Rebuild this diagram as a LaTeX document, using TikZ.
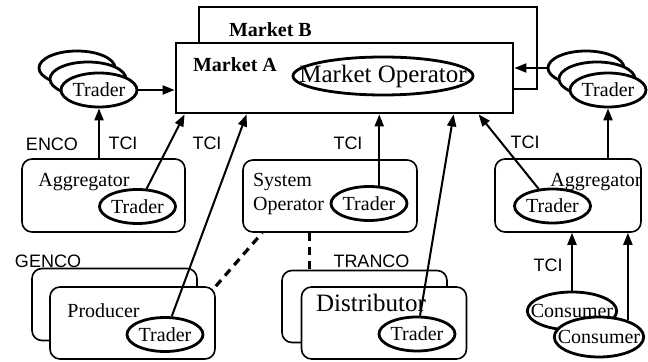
\documentclass[tikz,border=0pt]{standalone}
\usepackage{fontspec}
\setmainfont{Liberation Serif}
\setsansfont{Liberation Sans}
\usetikzlibrary{arrows.meta,shapes.geometric}

\begin{document}
\begin{tikzpicture}[x=0.5pt,y=-0.5pt,
    mkt/.style={draw,line width=1.4pt,fill=white,inner sep=0pt},
    rbox/.style={draw,line width=0.8pt,fill=white,rounded corners=5pt,minimum width=82.5pt,minimum height=36pt},
    trader/.style={draw,ellipse,line width=1.4pt,fill=white,inner sep=0pt,minimum width=38pt,minimum height=17pt},
    arr/.style={line width=1pt,-{Triangle[length=6pt,width=4.5pt]}},
    dashline/.style={line width=1.6pt,dash pattern=on 4pt off 3pt},
    lab/.style={font=\sffamily\fontsize{9}{10}\selectfont},
    big/.style={font=\fontsize{12.5}{14}\selectfont}]
     \useasboundingbox (0,0) rectangle (648,362);
     % markets
     \node[mkt,minimum width=169pt,minimum height=41pt] (mB) at (368,48) {};
     \node[font=\bfseries,anchor=west] (mBl) at (222,30) {Market B};
     \node[mkt,minimum width=168.5pt,minimum height=35pt] (mA) at (344.5,78) {};
     \node[font=\bfseries,anchor=west] (mAl) at (186,65) {Market A};
     \node[draw,ellipse,line width=1.4pt,inner xsep=-10pt,inner ysep=0pt,minimum height=19pt,big] (mo) at (383,76) {Market Operator};
     % trader stacks
     \node[trader] (tl3) at (77,68) {};
     \node[trader] (tl2) at (88,79) {};
     \node[trader] (tl1) at (99,90) {Trader};
     \node[trader] (tr3) at (586,68) {};
     \node[trader] (tr2) at (597,79) {};
     \node[trader] (tr1) at (608,90) {Trader};
     \draw[arr] (tl1.east) -- (tl1.east -| mA.west);
     \draw[arr] (tr3.west) -- (tr3.west -| mA.east);
     % aggregators and system operator
     \node[rbox,minimum width=81.5pt,minimum height=36.5pt] (agL) at (103.5,195.5) {};
     \node (agLt) at (84,182) {Aggregator};
     \node[trader] (trL) at (137.5,206.5) {Trader};
     \node[rbox,minimum width=87pt] (so) at (330,196) {};
     \node[align=left,anchor=west] (sot) at (246,194) {System\\Operator};
     \node[trader] (trS) at (369,203.5) {Trader};
     \node[rbox,minimum width=73pt,minimum height=36.5pt] (agR) at (568,195.5) {};
     \node (agRt) at (596,182) {Aggregator};
     \node[trader] (trR) at (552.5,206) {Trader};
     % consumers
     \node[trader,inner xsep=-4.75pt,minimum height=19pt] (cb) at (572,311) {Consumer};
     \node[trader,inner xsep=-4.75pt,minimum height=20pt] (cf) at (599,337) {Consumer};
     % producer
     \node[rbox] (prB) at (114.5,304.5) {};
     \node[rbox] (prF) at (132.5,323) {};
     \node (prt) at (103.5,311) {Producer};
     \node[trader] (trP) at (165,334.5) {Trader};
     % distributor
     \node[rbox] (diB) at (364.5,306.5) {};
     \node[rbox] (diF) at (384,323) {};
     \node[big] (dit) at (371,303) {Distributor};
     \node[trader] (trD) at (417,334) {Trader};
     % labels
     \node[lab] (enco) at (52,144) {ENCO};
     \node[lab] (genco) at (48,261) {GENCO};
     \node[lab] (tranco) at (371.5,261) {TRANCO};
     \node[lab] (tci1) at (123,143) {TCI};
     \node[lab] (tci2) at (207,143) {TCI};
     \node[lab] (tci3) at (348,143) {TCI};
     \node[lab] (tci4) at (525,142) {TCI};
     \node[lab] (tci5) at (548,265) {TCI};
     % arrows into market A
     \coordinate (a1) at ([xshift=5pt]mA.south west);
     \coordinate (a2) at ([xshift=36pt]mA.south west);
     \coordinate (a4) at ([xshift=139.5pt]mA.south west);
     \coordinate (a5) at ([xshift=152pt]mA.south west);
     \draw[arr] (agL.north -| tl1.south) -- (tl1.south);
     \draw[arr] (agR.north -| tr1.south) -- (tr1.south);
     \draw[arr] (trL) -- (a1);
     \draw[arr] (trP) -- (a2);
     \draw[arr] (trS.60) -- (trS.60 |- mA.south);
     \draw[arr] (trD) -- (a4);
     \draw[arr] (trR) -- (a5);
     \draw[arr] (cb.north) -- (cb.north |- agR.south);
     \draw[arr] (cf.30) -- (cf.30 |- agR.south);
     % physical links
     \draw[dashline] (prF.north east) -- ([xshift=10pt]so.south west);
     \draw[dashline] ([xshift=33.5pt]so.south west) -- ([xshift=33.5pt]so.south west |- diB.north);
    \end{tikzpicture}
\end{document}
